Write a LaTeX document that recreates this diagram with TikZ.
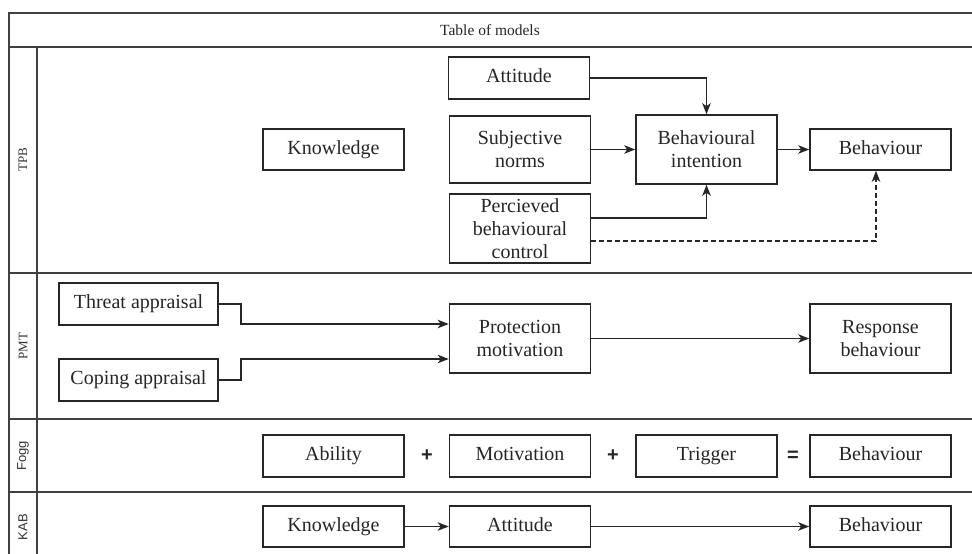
\documentclass[tikz,border=0pt]{standalone}
\usepackage{fontspec}
\setmainfont{Liberation Serif}
\setsansfont{Liberation Sans}
\usetikzlibrary{arrows.meta,calc}
\begin{document}
\begin{tikzpicture}[x=1pt,y=-1pt,
  box/.style={draw=black!85, line width=1.6pt, minimum width=141pt, inner sep=0pt, align=center, text=black!85, font=\fontsize{20}{23}\selectfont},
  one/.style={text height=14pt, text depth=4.5pt},
  arr/.style={draw=black!85, line width=1.4pt, -{Stealth[length=11pt,width=8.5pt,inset=3pt]}},
  darr/.style={arr, dash pattern=on 5pt off 3pt},
  frameline/.style={line width=1.5pt, draw=black!75},
  lab/.style={rotate=90, text=black!80, font=\fontsize{13}{15}\selectfont},
  slab/.style={rotate=90, text=black!80, font=\sffamily\fontsize{13}{15}\selectfont},
  op/.style={text=black!85, font=\sffamily\bfseries\fontsize{20}{22}\selectfont}]
\clip (0,0) rectangle (972,554);
\fill[white] (0,0) rectangle (972,554);
% frame
\draw[frameline] (9,600) -- (9,13) -- (980,13);
\draw[frameline] (9,47) -- (980,47);
\draw[frameline] (37,47) -- (37,600);
\draw[frameline] (9,273) -- (980,273);
\draw[frameline] (9,419) -- (980,419);
\draw[frameline] (9,492) -- (980,492);
\node[text=black!85, font=\fontsize{15.5}{17}\selectfont] (title) at (490,30) {Table of models};
% row labels
\node[lab] (ltpb) at (23,160) {TPB};
\node[lab] (lpmt) at (23,346) {PMT};
\node[slab] (lfogg) at (23,456) {Fogg};
\node[slab] (lkab) at (23,527) {KAB};
% TPB
\node[box, one, minimum height=42pt] (att) at (519,78) {Attitude};
\node[box, minimum height=67pt] (sn) at (520,149.5) {Subjective\\norms};
\node[box, minimum height=69pt] (pc) at (520,228.5) {Percieved\\behavioural\\control};
\node[box, one, minimum height=41pt] (kn) at (333.5,149.5) {Knowledge};
\node[box, minimum height=69pt] (bi) at (706.5,149.5) {Behavioural\\intention};
\node[box, one, minimum height=41pt] (beh) at (880.5,149.5) {Behaviour};
\draw[arr] (att.east) -| (bi.north);
\draw[arr] (sn.east) -- (bi.west);
\draw[arr] (bi.east) -- (beh.west);
\draw[arr] ([yshift=10.5pt]pc.east) -| (bi.south);
\draw[darr] ([yshift=-12.5pt]pc.east) -| ([xshift=-4.5pt]beh.south);
% PMT
\node[box, one, minimum width=159pt, minimum height=42pt] (ta) at (138.5,304) {Threat appraisal};
\node[box, one, minimum width=159pt, minimum height=42pt] (ca) at (138.5,380) {Coping appraisal};
\node[box, minimum height=69pt] (pm) at (520,338.5) {Protection\\motivation};
\node[box, minimum height=69pt] (rb) at (880.5,338.5) {Response\\behaviour};
\coordinate (tb) at (241,304);
\coordinate (cb) at (241,380);
\draw[arr] (ta.east) -- (tb) |- ([yshift=14.5pt]pm.west);
\draw[arr] (ca.east) -- (cb) |- ([yshift=-20.5pt]pm.west);
\draw[arr] (pm.east) -- (rb.west);
% Fogg
\node[box, one, minimum height=42pt] (fab) at (333.5,456) {Ability};
\node[box, one, minimum height=42pt] (fmo) at (520,456) {Motivation};
\node[box, one, minimum height=42pt] (ftr) at (706.5,456) {Trigger};
\node[box, one, minimum height=42pt] (fbe) at (880.5,456) {Behaviour};
\node[op] (p1) at (427,456) {+};
\node[op] (p2) at (613,456) {+};
\node[op] (eq) at (793,456) {=};
% KAB
\node[box, one, minimum height=41pt] (kkn) at (333.5,526.5) {Knowledge};
\node[box, one, minimum height=41pt] (kat) at (520,526.5) {Attitude};
\node[box, one, minimum height=41pt] (kbe) at (880.5,526.5) {Behaviour};
\draw[arr] (kkn.east) -- (kat.west);
\draw[arr] (kat.east) -- (kbe.west);
\end{tikzpicture}
\end{document}
